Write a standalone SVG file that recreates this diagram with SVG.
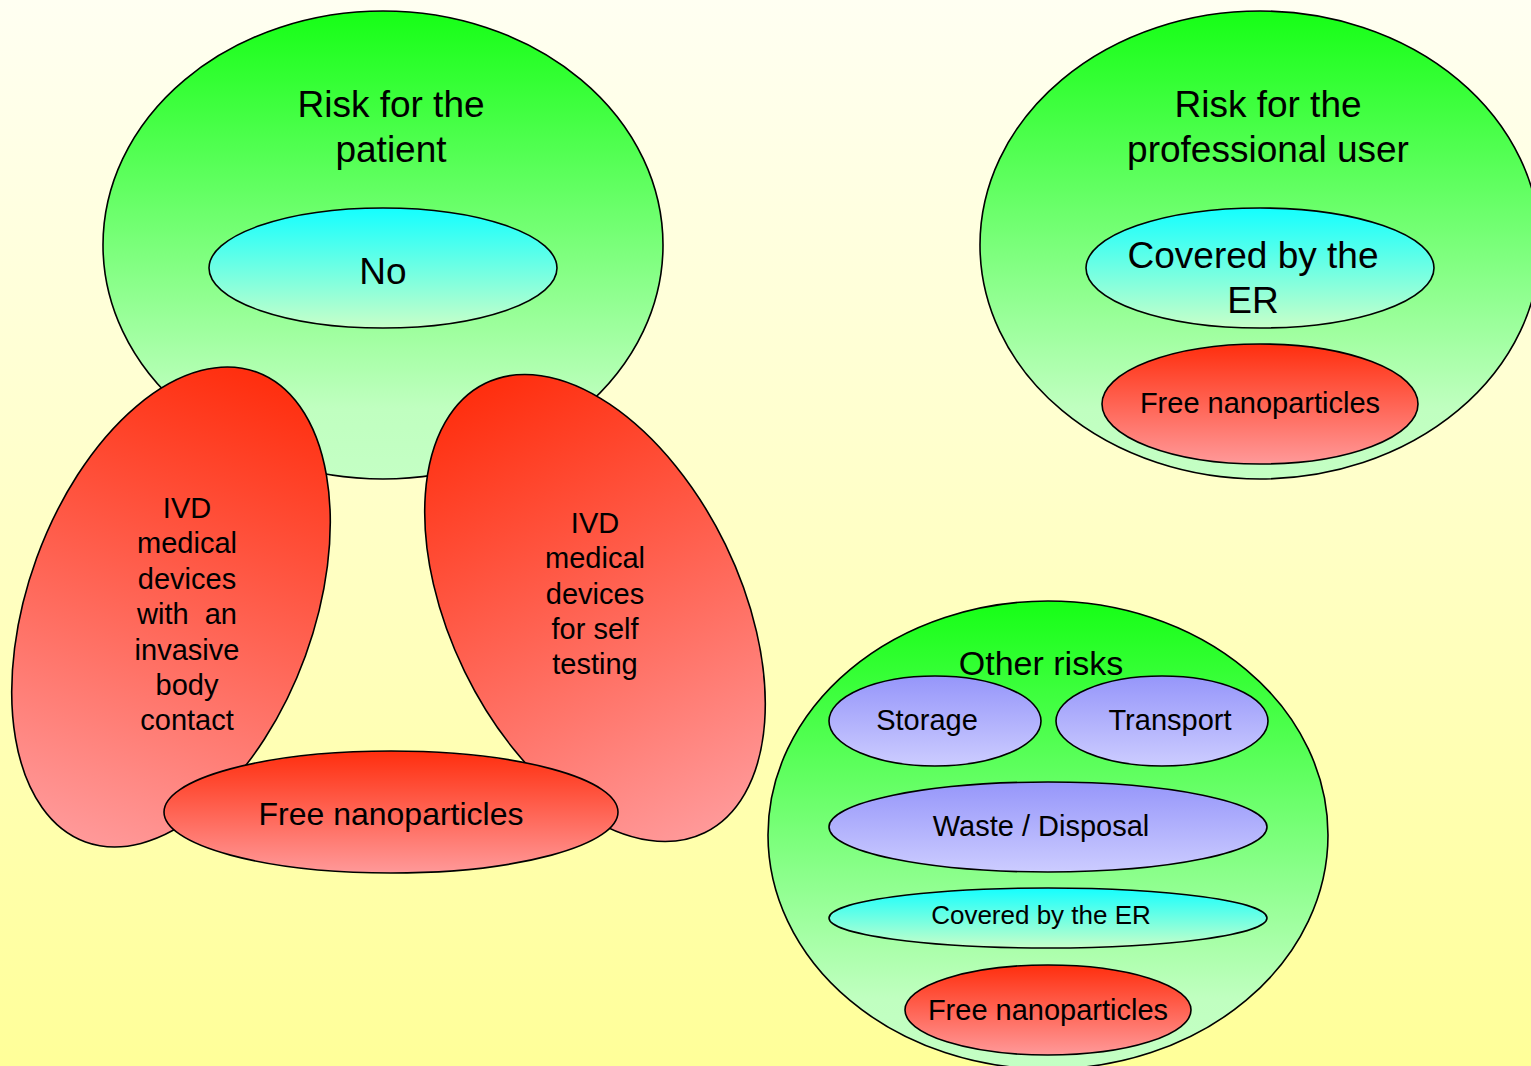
<svg xmlns="http://www.w3.org/2000/svg" width="1531" height="1066" viewBox="0 0 1531 1066">
<defs>
<linearGradient id="bg" x1="0" y1="0" x2="0" y2="1"><stop offset="0" stop-color="#fffff2"/><stop offset="1" stop-color="#ffff99"/></linearGradient>
<linearGradient id="green" x1="0" y1="0" x2="0" y2="1"><stop offset="0" stop-color="#16ff16"/><stop offset="0.85" stop-color="#c0ffc0"/><stop offset="1" stop-color="#c4ffc4"/></linearGradient>
<linearGradient id="cyan" x1="0" y1="0" x2="0" y2="1"><stop offset="0" stop-color="#14ffff"/><stop offset="1" stop-color="#c8ffc8"/></linearGradient>
<linearGradient id="red" x1="0" y1="0" x2="0" y2="1"><stop offset="0" stop-color="#ff2e0e"/><stop offset="1" stop-color="#ff9999"/></linearGradient>
<linearGradient id="blue" x1="0" y1="0" x2="0" y2="1"><stop offset="0" stop-color="#9696fa"/><stop offset="1" stop-color="#ccccff"/></linearGradient>
</defs>
<style>
ellipse{stroke:#000;stroke-width:1.6}
.g{fill:url(#green)}
.c{fill:url(#cyan)}
.r{fill:url(#red)}
.b{fill:url(#blue)}
text{font-family:"Liberation Sans",Arial,sans-serif;fill:#000;text-anchor:middle;white-space:pre}
.t36{font-size:37px}
.t32{font-size:32px}
.t29{font-size:29px}
.t26{font-size:26px}
</style>
<rect width="1531" height="1066" fill="url(#bg)"/>
<g id="connectors"/>

<g id="patient">
<ellipse class="g" cx="383" cy="245" rx="280" ry="234"/>
<text class="t36" x="391" y="117">Risk for the</text>
<text class="t36" x="391" y="162">patient</text>
</g>
<g id="patient-no">
<ellipse class="c" cx="383" cy="268" rx="174" ry="60"/>
<text class="t36" x="383" y="284">No</text>
</g>

<g id="ivd-invasive">
<ellipse class="r" cx="171" cy="607" rx="143" ry="250" transform="rotate(20 171 607)"/>
<text class="t29" x="187" y="518">IVD</text>
<text class="t29" x="187" y="553">medical</text>
<text class="t29" x="187" y="589">devices</text>
<text class="t29" x="187" y="624" xml:space="preserve">with  an</text>
<text class="t29" x="187" y="660">invasive</text>
<text class="t29" x="187" y="695">body</text>
<text class="t29" x="187" y="730">contact</text>
</g>

<g id="ivd-self">
<ellipse class="r" cx="595" cy="608" rx="145" ry="250" transform="rotate(-26 595 608)"/>
<text class="t29" x="595" y="533">IVD</text>
<text class="t29" x="595" y="568">medical</text>
<text class="t29" x="595" y="604">devices</text>
<text class="t29" x="595" y="639">for self</text>
<text class="t29" x="595" y="674">testing</text>
</g>

<g id="patient-nano">
<ellipse class="r" cx="391" cy="812" rx="227" ry="61"/>
<text class="t32" x="391" y="825">Free nanoparticles</text>
</g>

<g id="professional">
<ellipse class="g" cx="1260" cy="245" rx="280" ry="234"/>
<text class="t36" x="1268" y="117">Risk for the</text>
<text class="t36" x="1268" y="162">professional user</text>
</g>
<g id="professional-er">
<ellipse class="c" cx="1260" cy="268" rx="174" ry="60"/>
<text class="t36" x="1253" y="268">Covered by the</text>
<text class="t36" x="1253" y="313">ER</text>
</g>
<g id="professional-nano">
<ellipse class="r" cx="1260" cy="404" rx="158" ry="60"/>
<text class="t29" x="1260" y="413">Free nanoparticles</text>
</g>

<g id="other">
<ellipse class="g" cx="1048" cy="835" rx="280" ry="234"/>
<text class="t36" x="1041" y="675" style="font-size:34px">Other risks</text>
</g>
<g id="storage">
<ellipse class="b" cx="935" cy="721" rx="106" ry="45"/>
<text class="t29" x="927" y="730">Storage</text>
</g>
<g id="transport">
<ellipse class="b" cx="1162" cy="721" rx="106" ry="45"/>
<text class="t29" x="1170" y="730">Transport</text>
</g>
<g id="waste">
<ellipse class="b" cx="1048" cy="827" rx="219" ry="45"/>
<text class="t29" x="1041" y="836">Waste / Disposal</text>
</g>
<g id="other-er">
<ellipse class="c" cx="1048" cy="918" rx="219" ry="30"/>
<text class="t26" x="1041" y="924">Covered by the ER</text>
</g>
<g id="other-nano">
<ellipse class="r" cx="1048" cy="1010" rx="143" ry="45"/>
<text class="t29" x="1048" y="1020">Free nanoparticles</text>
</g>
</svg>
